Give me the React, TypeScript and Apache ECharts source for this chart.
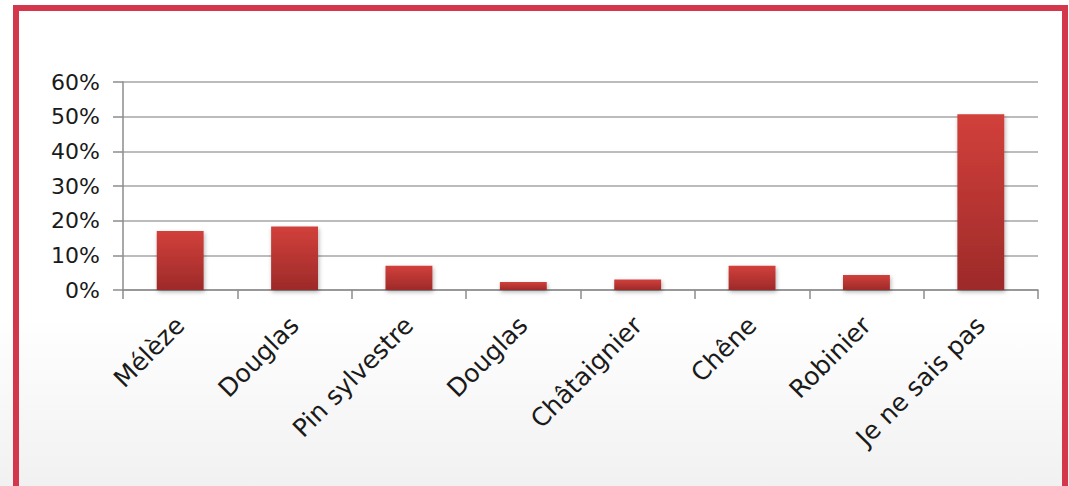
import React, { useEffect, useRef } from "react";
import * as echarts from "echarts";

const categories = ["Mélèze", "Douglas", "Pin sylvestre", "Douglas", "Châtaignier", "Chêne", "Robinier", "Je ne sais pas"];
const values = [17, 18.3, 7, 2.3, 3, 7, 4.3, 50.7];
const yTicks = [0, 10, 20, 30, 40, 50, 60];

export default function App() {
  const ref = useRef<HTMLDivElement>(null);
  useEffect(() => {
    const chart = echarts.init(ref.current!, null, { renderer: "svg" });
    chart.setOption({
      animation: false,
      backgroundColor: {
        type: "linear", x: 0, y: 0, x2: 0, y2: 1,
        colorStops: [
          { offset: 0, color: "#ffffff" },
          { offset: 0.65, color: "#ffffff" },
          { offset: 1, color: "#f1f1f1" },
        ],
      },
      graphic: [
        {
          type: "rect",
          shape: { x: 16, y: 8, width: 1049, height: 500 },
          style: { fill: "none", stroke: "#d4364c", lineWidth: 6 },
          z: 10,
        },
      ],
      grid: { left: 123, right: 31, top: 82, bottom: 196, containLabel: false },
      xAxis: {
        type: "category",
        data: categories,
        axisLine: { show: true, lineStyle: { color: "#8c8c8c", width: 1.5 } },
        axisTick: { show: true, length: 9, lineStyle: { color: "#8c8c8c", width: 1.5 } },
        axisLabel: {
          rotate: 45,
          margin: 31,
          interval: 0,
          fontSize: 25,
          fontFamily: "'DejaVu Sans', sans-serif",
          color: "#1a1a1a",
        },
      },
      yAxis: {
        type: "value",
        min: 0,
        max: 60,
        interval: 10,
        axisLine: { show: true, lineStyle: { color: "#8c8c8c", width: 1.5 } },
        axisTick: { show: true, length: 10, lineStyle: { color: "#8c8c8c", width: 1.5 } },
        splitLine: { show: true, lineStyle: { color: "#a6a6a6", width: 1.5 } },
        axisLabel: {
          margin: 23,
          fontSize: 22,
          fontFamily: "'DejaVu Sans', sans-serif",
          color: "#1a1a1a",
          formatter: (v: number) => (yTicks.includes(v) ? v + "%" : ""),
        },
      },
      series: [
        {
          type: "bar",
          data: values,
          barWidth: "41%",
          itemStyle: {
            color: {
              type: "linear", x: 0, y: 0, x2: 0, y2: 1,
              colorStops: [
                { offset: 0, color: "#d2403b" },
                { offset: 1, color: "#9d2a29" },
              ],
            },
            shadowBlur: 4,
            shadowColor: "rgba(0,0,0,0.3)",
            shadowOffsetX: 1,
            shadowOffsetY: 2,
          },
        },
      ],
    });
    return () => chart.dispose();
  }, []);
  return (
    <div
      ref={ref}
      style={{ position: "fixed", left: 0, top: 0, width: 1069, height: 486 }}
    />
  );
}
